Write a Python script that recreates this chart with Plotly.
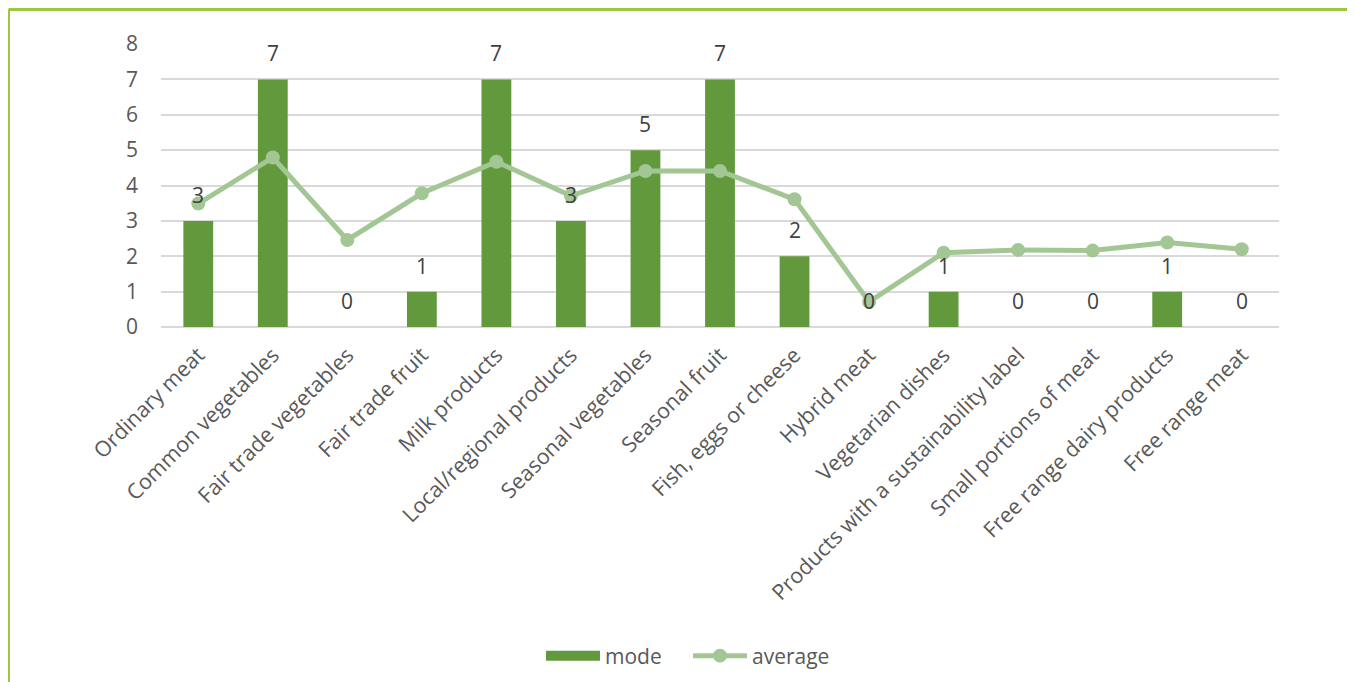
import plotly.graph_objects as go

categories = ["Ordinary meat", "Common vegetables", "Fair trade vegetables", "Fair trade fruit",
              "Milk products", "Local/regional products", "Seasonal vegetables", "Seasonal fruit",
              "Fish, eggs or cheese", "Hybrid meat", "Vegetarian dishes",
              "Products with a sustainability label", "Small portions of meat",
              "Free range dairy products", "Free range meat"]
mode_values = [3, 7, 0, 1, 7, 3, 5, 7, 2, 0, 1, 0, 0, 1, 0]
average_values = [3.49, 4.79, 2.46, 3.78, 4.67, 3.71, 4.41, 4.41, 3.61, 0.71, 2.10, 2.18, 2.16, 2.39, 2.20]
y_ticks = [0, 1, 2, 3, 4, 5, 6, 7, 8]

FONT = "Open Sans"
BAR_COLOR = "#63993D"
LINE_COLOR = "#A3C794"
# page has an 8px body margin, so the figure is 8px smaller and offset
W, H = 1347, 674
L, R, T, B = 153, 76, 36, 355

fig = go.Figure()
fig.add_trace(go.Bar(
    x=categories, y=mode_values, name="mode",
    marker=dict(color=BAR_COLOR, line=dict(width=0)),
    width=0.4, showlegend=False,
))
# legend proxy for the bar series (wide rectangle swatch)
fig.add_trace(go.Scatter(
    x=[None], y=[None], name="mode", mode="lines",
    line=dict(color=BAR_COLOR, width=14),
))
fig.add_trace(go.Scatter(
    x=categories, y=average_values, name="average", mode="lines+markers",
    line=dict(color=LINE_COLOR, width=5),
    marker=dict(color=LINE_COLOR, size=14),
))

for c, v in zip(categories, mode_values):
    fig.add_annotation(x=c, y=v, text=str(v), showarrow=False, yshift=26,
                       font=dict(family=FONT, size=21, color="#404040"))

pw = W - L - R
ph = H - T - B
fig.add_shape(type="line", xref="paper", yref="paper",
              x0=(0.5 - L) / pw, x1=(1400 - L) / pw,
              y0=(H - B - 1.5) / ph, y1=(H - B - 1.5) / ph,
              line=dict(color="#9BC841", width=3), layer="above")
fig.add_shape(type="line", xref="paper", yref="paper",
              x0=(0.5 - L) / pw, x1=(0.5 - L) / pw,
              y0=(H - B - 1.5) / ph, y1=(H - B - 700) / ph,
              line=dict(color="#9BC841", width=3), layer="above")

fig.update_layout(
    width=W, height=H,
    margin=dict(l=L, r=R, t=T, b=B, autoexpand=False),
    paper_bgcolor="white", plot_bgcolor="white",
    font=dict(family=FONT, size=21, color="#595959"),
    showlegend=True,
    legend=dict(orientation="h", x=(533 - L) / pw, xanchor="left", y=(H - B - 648) / ph, yanchor="middle",
                font=dict(family=FONT, size=21, color="#595959"), itemwidth=54,
                entrywidth=78, entrywidthmode="pixels",
                traceorder="normal"),
)
fig.update_xaxes(range=[-0.5, 14.5], tickangle=-45, showgrid=False, showline=False,
                 ticks="outside", ticklen=6, tickcolor="rgba(0,0,0,0)",
                 automargin=False,
                 tickfont=dict(family=FONT, size=21.5, color="#595959"))
fig.update_yaxes(range=[0, 8], tickvals=y_ticks, showgrid=True, gridcolor="#D9D9D9", gridwidth=1.5,
                 zeroline=True, zerolinecolor="#D9D9D9", zerolinewidth=1.5,
                 showline=False, ticks="", automargin=False, ticklabelstandoff=22,
                 tickfont=dict(family=FONT, size=21, color="#595959"))

fig.write_html("out.html")
